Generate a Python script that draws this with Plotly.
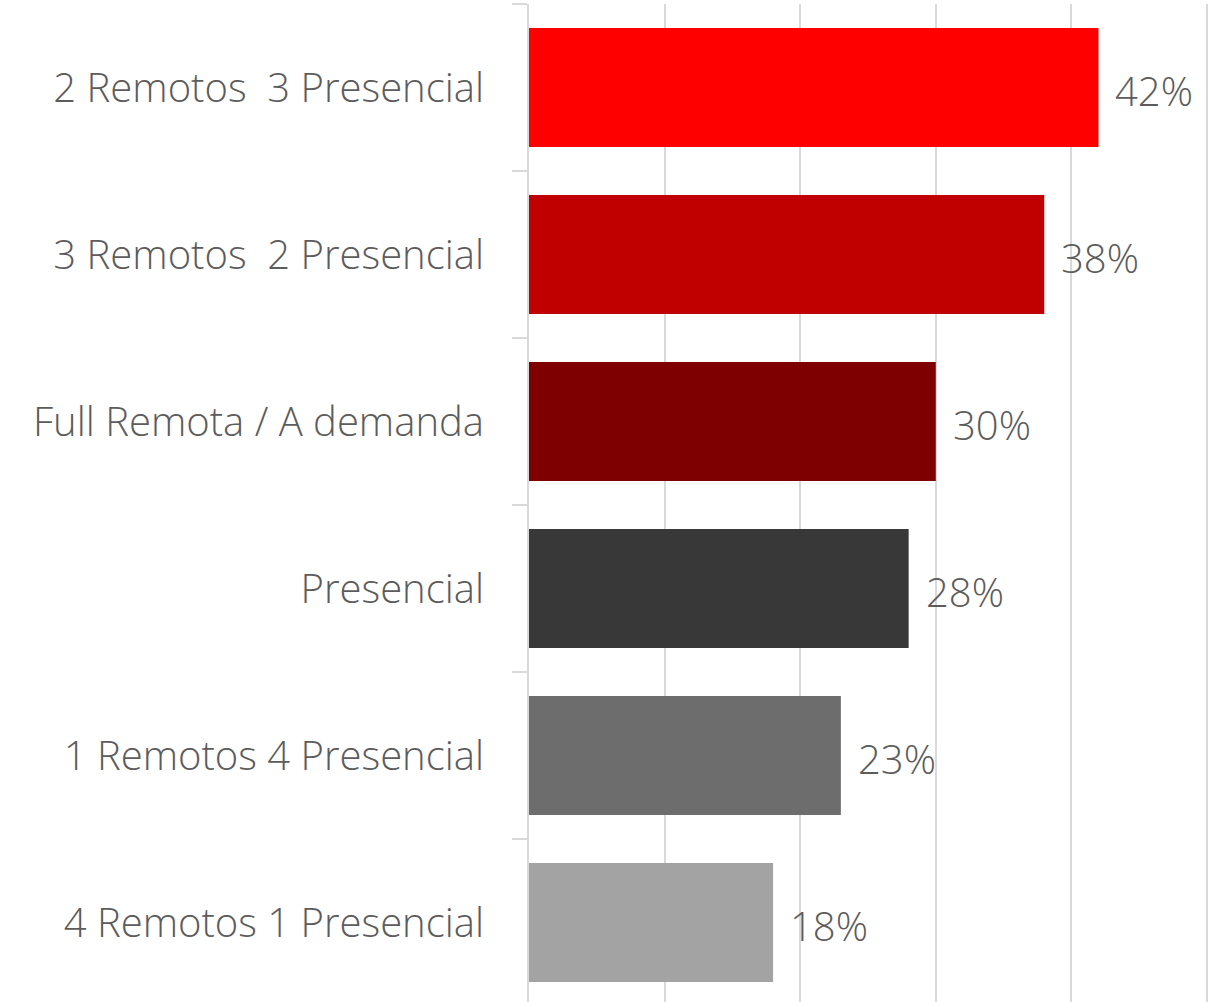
import plotly.graph_objects as go

categories = ["2 Remotos  3 Presencial", "3 Remotos  2 Presencial", "Full Remota / A demanda",
              "Presencial", "1 Remotos 4 Presencial", "4 Remotos 1 Presencial"]
values = [42, 38, 30, 28, 23, 18]
labels = ["42%", "38%", "30%", "28%", "23%", "18%"]
colors = ["#FF0000", "#C00000", "#7F0000", "#383838", "#6D6D6D", "#A3A3A3"]

FONT = "Segoe UI Light, Segoe UI, Open Sans, sans-serif"
TXT = "#5c5c5c"

fig = go.Figure(go.Bar(
    y=categories, x=values, orientation="h",
    marker=dict(color=colors, line=dict(width=0)),
    hoverinfo="skip",
))

for c, v, t in zip(categories, values, labels):
    fig.add_annotation(x=v, y=c, text=t, showarrow=False, xanchor="left",
                       xshift=15, yshift=-3,
                       font=dict(family=FONT, size=40, color=TXT, weight=330))

fig.update_layout(
    width=1216, height=1002,
    margin=dict(l=529, r=7, t=4, b=0),
    paper_bgcolor="white", plot_bgcolor="white",
    bargap=0.287, showlegend=False,
    xaxis=dict(range=[0, 50.15], dtick=10, showticklabels=False, showgrid=True,
               gridcolor="#d9d9d9", gridwidth=1.5, zeroline=False, showline=False, fixedrange=True),
    yaxis=dict(type="category", categoryarray=categories, range=[5.476, -0.5],
               showline=True, linecolor="#d9d9d9", linewidth=2,
               ticks="outside", ticklen=15, tickwidth=2, tickcolor="#d9d9d9",
               tickson="boundaries", showgrid=False, ticklabelstandoff=35,
               tickfont=dict(family=FONT, size=40, color=TXT, weight=330)),
)

fig.write_html("out.html", config={"displayModeBar": False},
               post_script="document.body.style.margin='0';document.body.style.overflow='hidden';")
